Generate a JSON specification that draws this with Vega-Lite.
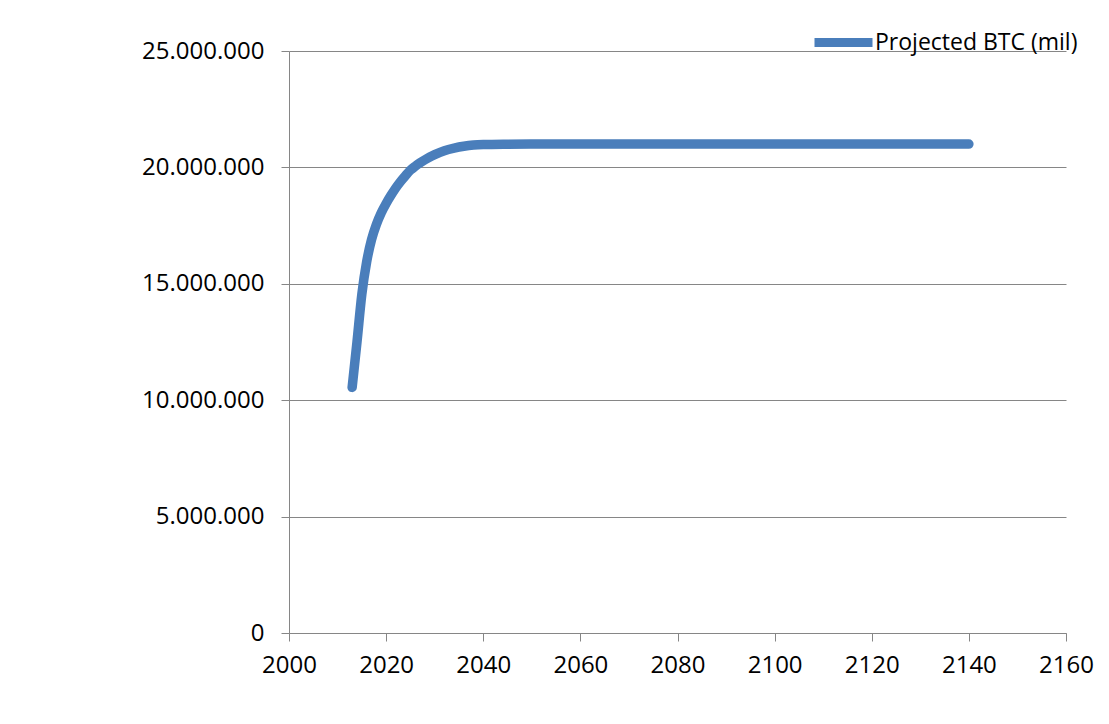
{
  "$schema": "https://vega.github.io/schema/vega-lite/v6.json",
  "width": 777,
  "height": 582,
  "autosize": "none",
  "padding": {"left": 289, "top": 51, "right": 43, "bottom": 91},
  "background": "white",
  "config": {
    "locale": {"number": {"decimal": ",", "thousands": ".", "grouping": [3], "currency": ["", ""]}},
    "view": {"stroke": null},
    "font": "Open Sans",
    "axis": {
      "domainColor": "#868686",
      "tickColor": "#868686",
      "gridColor": "#868686",
      "labelColor": "#000000",
      "labelFont": "Open Sans",
      "labelFontSize": 24,
      "tickSize": 8,
      "title": null
    }
  },
  "data": {
    "values": [
      {"year": 2013, "btc": 10550000, "series": "Projected BTC (mil)"},
      {"year": 2014, "btc": 12500000, "series": "Projected BTC (mil)"},
      {"year": 2015, "btc": 14550000, "series": "Projected BTC (mil)"},
      {"year": 2016, "btc": 15950000, "series": "Projected BTC (mil)"},
      {"year": 2017, "btc": 16900000, "series": "Projected BTC (mil)"},
      {"year": 2018, "btc": 17550000, "series": "Projected BTC (mil)"},
      {"year": 2019, "btc": 18050000, "series": "Projected BTC (mil)"},
      {"year": 2020, "btc": 18450000, "series": "Projected BTC (mil)"},
      {"year": 2021, "btc": 18800000, "series": "Projected BTC (mil)"},
      {"year": 2022, "btc": 19120000, "series": "Projected BTC (mil)"},
      {"year": 2023, "btc": 19400000, "series": "Projected BTC (mil)"},
      {"year": 2024, "btc": 19650000, "series": "Projected BTC (mil)"},
      {"year": 2025, "btc": 19880000, "series": "Projected BTC (mil)"},
      {"year": 2026, "btc": 20050000, "series": "Projected BTC (mil)"},
      {"year": 2027, "btc": 20200000, "series": "Projected BTC (mil)"},
      {"year": 2028, "btc": 20330000, "series": "Projected BTC (mil)"},
      {"year": 2029, "btc": 20450000, "series": "Projected BTC (mil)"},
      {"year": 2030, "btc": 20550000, "series": "Projected BTC (mil)"},
      {"year": 2032, "btc": 20720000, "series": "Projected BTC (mil)"},
      {"year": 2034, "btc": 20830000, "series": "Projected BTC (mil)"},
      {"year": 2036, "btc": 20910000, "series": "Projected BTC (mil)"},
      {"year": 2038, "btc": 20960000, "series": "Projected BTC (mil)"},
      {"year": 2040, "btc": 20980000, "series": "Projected BTC (mil)"},
      {"year": 2045, "btc": 20995000, "series": "Projected BTC (mil)"},
      {"year": 2050, "btc": 21000000, "series": "Projected BTC (mil)"},
      {"year": 2070, "btc": 21000000, "series": "Projected BTC (mil)"},
      {"year": 2090, "btc": 21000000, "series": "Projected BTC (mil)"},
      {"year": 2110, "btc": 21000000, "series": "Projected BTC (mil)"},
      {"year": 2140, "btc": 21000000, "series": "Projected BTC (mil)"}
    ]
  },
  "mark": {"type": "line", "interpolate": "monotone", "strokeWidth": 9.5, "strokeCap": "round", "strokeJoin": "round"},
  "encoding": {
    "x": {
      "field": "year",
      "type": "quantitative",
      "scale": {"domain": [2000, 2160], "nice": false, "zero": false},
      "axis": {"values": [2000, 2020, 2040, 2060, 2080, 2100, 2120, 2140, 2160], "format": "d", "grid": false, "labelFlush": false, "labelPadding": 12}
    },
    "y": {
      "field": "btc",
      "type": "quantitative",
      "scale": {"domain": [0, 25000000], "nice": false},
      "axis": {"values": [0, 5000000, 10000000, 15000000, 20000000, 25000000], "format": ",d", "grid": true, "labelPadding": 17}
    },
    "color": {
      "field": "series",
      "type": "nominal",
      "scale": {"range": ["#4A7EBB"]},
      "legend": {
        "title": null,
        "orient": "none",
        "legendX": 521,
        "legendY": -42,
        "symbolType": "stroke",
        "symbolSize": 3364,
        "symbolStrokeWidth": 9,
        "labelFont": "Open Sans",
        "labelFontSize": 23,
        "labelLimit": 400,
        "labelColor": "#000000",
        "labelOffset": -2
      }
    }
  }
}
